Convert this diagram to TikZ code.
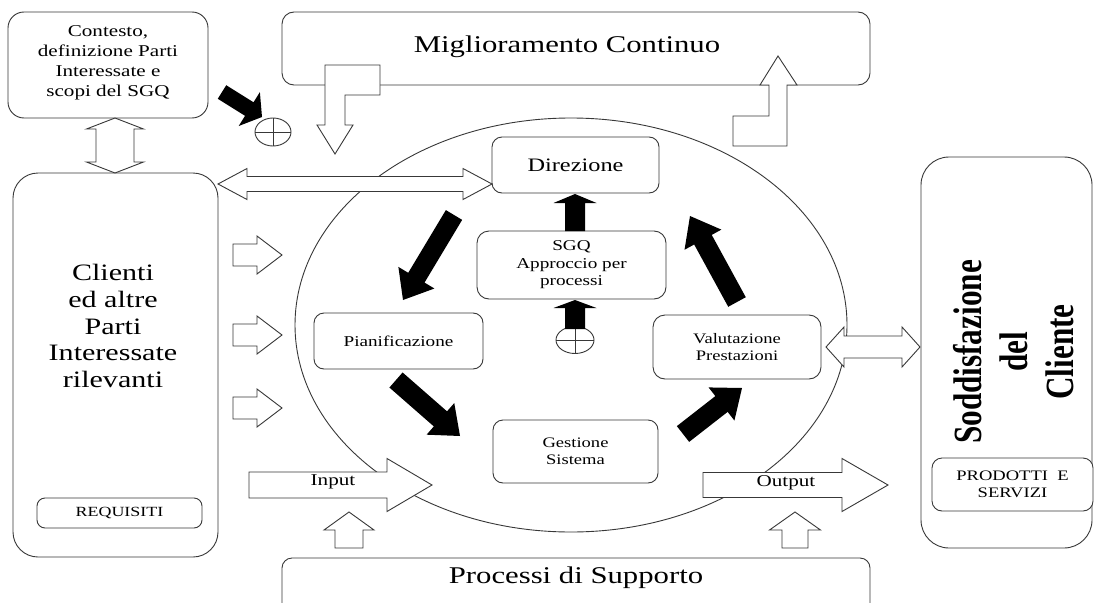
\documentclass[tikz,border=0pt]{standalone}
\usepackage{fontspec}
\setmainfont{Liberation Serif}[FakeStretch=1.28]
\newfontfamily\rotfont{Liberation Serif}[FakeStretch=0.78]
\usetikzlibrary{calc}
\newcommand\fs[2]{\fontsize{#1}{#2}\selectfont}
% #1 style, #2 start, #3 tip, #4 shaft half width, #5 head half width, #6 head length
\newcommand\arrowpoly[6]{%
  \coordinate (hb) at ($(#3)!#6!(#2)$);
  \path[#1] ($(#2)!#4!90:(#3)$) -- ($(hb)!#4!90:(#3)$) -- ($(hb)!#5!90:(#3)$) -- (#3)
     -- ($(hb)!#5!-90:(#3)$) -- ($(hb)!#4!-90:(#3)$) -- ($(#2)!#4!-90:(#3)$) -- cycle;}
\newcommand\darrowpoly[6]{%
  \coordinate (ha) at ($(#2)!#6!(#3)$);
  \coordinate (hb) at ($(#3)!#6!(#2)$);
  \path[#1] (#2) -- ($(ha)!#5!90:(#3)$) -- ($(ha)!#4!90:(#3)$) -- ($(hb)!#4!90:(#3)$)
     -- ($(hb)!#5!90:(#3)$) -- (#3) -- ($(hb)!#5!-90:(#3)$) -- ($(hb)!#4!-90:(#3)$)
     -- ($(ha)!#4!-90:(#3)$) -- ($(ha)!#5!-90:(#3)$) -- cycle;}
\tikzset{
  box/.style={draw=black!78, line width=0.9pt, fill=white, inner sep=0pt},
  lbl/.style={inner sep=0pt, align=center, text=black},
  hollow/.style={draw=black!78, line width=0.9pt, fill=white, line join=miter},
  solidarrow/.style={fill=black},
  oplus/.style={draw=black!78, line width=0.9pt, fill=white},
}
\begin{document}
\begin{tikzpicture}[x=1pt,y=-1pt]
\useasboundingbox (0,0) rectangle (1094,602);
\clip (0,0) rectangle (1094,602);
\fill[white] (0,0) rectangle (1094,602);

% big cycle
\coordinate (cyc) at (571,325);
\draw[black!78, line width=0.9pt] (cyc) ellipse [x radius=276, y radius=207];

% boxes
\node[box, rounded corners=16pt, minimum width=200pt, minimum height=106pt] (ctx) at (108,65) {};
\node[lbl, font=\fs{16.5}{20}] (ctxt) at (108,63) {Contesto,\\definizione Parti\\Interessate e\\scopi del SGQ};

\node[box, rounded corners=12pt, minimum width=588pt, minimum height=73pt] (mig) at (576,48.5) {};
\node[lbl, font=\fs{24}{28}] (migt) at (567,47) {Miglioramento Continuo};

\node[box, rounded corners=25pt, minimum width=205pt, minimum height=384pt] (cli) at (115.5,365) {};
\node[lbl, font=\fs{23.5}{26.7}] (clit) at (113,326) {Clienti\\ed altre\\Parti\\Interessate\\rilevanti};
\node[box, rounded corners=8pt, minimum width=165pt, minimum height=30pt, font=\fs{14}{16}] (req) at (119.5,513) {REQUISITI};

\node[box, rounded corners=28pt, minimum width=171pt, minimum height=391pt] (sod) at (1006.5,352.5) {};
\node[lbl, rotate=90, font=\rotfont\bfseries\fs{40}{46}] (sodt) at (1014,352) {Soddisfazione\\del\\Cliente};
\node[box, rounded corners=10pt, minimum width=161pt, minimum height=53pt, align=center, font=\fs{14.5}{16.7}] (prod) at (1012.5,484.5) {PRODOTTI\ \ E\\SERVIZI};

% Processi di Supporto (open at the bottom)
\draw[black!78, line width=0.9pt, rounded corners=10pt] (282,620) -- (282,558) -- (870,558) -- (870,620);
\node[lbl, font=\fs{24}{28}] (proc) at (576,578) {Processi di Supporto};

% inner boxes
\node[box, rounded corners=10pt, minimum width=167pt, minimum height=56pt, font=\fs{19}{22}] (dir) at (575.5,165) {Direzione};
\node[box, rounded corners=12pt, minimum width=189pt, minimum height=68pt, align=center, font=\fs{15}{17.5}] (sgq) at (571.5,265) {SGQ\\Approccio per\\processi};
\node[box, rounded corners=10pt, minimum width=169pt, minimum height=56pt, font=\fs{15}{17}] (pia) at (398.5,341) {Pianificazione};
\node[box, rounded corners=12pt, minimum width=168pt, minimum height=64pt, align=center, font=\fs{14.5}{16.7}] (val) at (737,347) {Valutazione\\Prestazioni};
\node[box, rounded corners=10pt, minimum width=165pt, minimum height=63pt, align=center, font=\fs{14.5}{16.7}] (ges) at (575.5,451.5) {Gestione\\Sistema};

% L-shaped hollow arrows
\draw[hollow] (325,65) -- (380,65) -- (380,95) -- (345,95) -- (345,125) -- (353,125) -- (335,154) -- (317,125) -- (325,125) -- cycle;
\draw[hollow] (778,56) -- (797,85) -- (787,85) -- (787,146) -- (733,146) -- (733,116) -- (769,116) -- (769,85) -- (760,85) -- cycle;

% oplus symbols
\coordinate (op1) at (273,132);
\draw[oplus] (op1) ellipse [x radius=18, y radius=14];
\draw[black!78, line width=0.9pt] ($(op1)+(-18,0)$) -- ($(op1)+(18,0)$) ($(op1)+(0,-14)$) -- ($(op1)+(0,14)$);
\coordinate (op2) at (575,340);
\draw[oplus] (op2) ellipse [x radius=19, y radius=13.5];
\draw[black!78, line width=0.9pt] ($(op2)+(-19,0)$) -- ($(op2)+(19,0)$) ($(op2)+(0,-13.5)$) -- ($(op2)+(0,13.5)$);

% hollow double arrows
\coordinate (v1) at (115,118); \coordinate (v2) at (115,173);
\darrowpoly{hollow}{v1}{v2}{19pt}{28.5pt}{11pt}
\coordinate (h1) at (218,184); \coordinate (h2) at (492,184);
\darrowpoly{hollow}{h1}{h2}{7.5pt}{15.5pt}{29pt}
\coordinate (r1) at (826,347); \coordinate (r2) at (920,347);
\darrowpoly{hollow}{r1}{r2}{11pt}{20pt}{18pt}

% small hollow arrows from clients
\foreach \yy [count=\i] in {255,335,408}{
  \coordinate (sa\i) at (233,\yy); \coordinate (sb\i) at (282,\yy);
  \arrowpoly{hollow}{sa\i}{sb\i}{11pt}{19pt}{25pt}
}

% input / output
\coordinate (in1) at (249,485); \coordinate (in2) at (432,485);
\arrowpoly{hollow}{in1}{in2}{13pt}{26.5pt}{45pt}
\node[lbl, font=\fs{16.5}{19}] (inl) at (333,482) {Input};
\coordinate (out1) at (703,485); \coordinate (out2) at (888,485);
\arrowpoly{hollow}{out1}{out2}{12.5pt}{26.5pt}{46pt}
\node[lbl, font=\fs{16.5}{19}] (outl) at (786,483) {Output};
\coordinate (iu1) at (349,548); \coordinate (iu2) at (349,512);
\arrowpoly{hollow}{iu1}{iu2}{14pt}{25pt}{18pt}
\coordinate (ou1) at (795,548); \coordinate (ou2) at (795,512);
\arrowpoly{hollow}{ou1}{ou2}{13pt}{25.5pt}{18pt}

% solid black arrows
\coordinate (k1) at (222,92); \coordinate (k2) at (262,117);
\arrowpoly{solidarrow}{k1}{k2}{8pt}{20pt}{15pt}
\coordinate (s1) at (575,231); \coordinate (s2) at (575,194);
\arrowpoly{solidarrow}{s1}{s2}{10pt}{21.5pt}{9pt}
\coordinate (p1) at (575,329); \coordinate (p2) at (575,300);
\arrowpoly{solidarrow}{p1}{p2}{10pt}{21.5pt}{8pt}
\coordinate (d1) at (454,215); \coordinate (d2) at (403,300);
\arrowpoly{solidarrow}{d1}{d2}{9.5pt}{21pt}{26pt}
\coordinate (g1) at (396,380); \coordinate (g2) at (460,436);
\arrowpoly{solidarrow}{g1}{g2}{10pt}{21pt}{26pt}
\coordinate (e1) at (683,434); \coordinate (e2) at (742,388);
\arrowpoly{solidarrow}{e1}{e2}{10pt}{21pt}{26pt}
\coordinate (f1) at (737,302); \coordinate (f2) at (690,216);
\arrowpoly{solidarrow}{f1}{f2}{10pt}{21pt}{27pt}
\end{tikzpicture}
\end{document}
